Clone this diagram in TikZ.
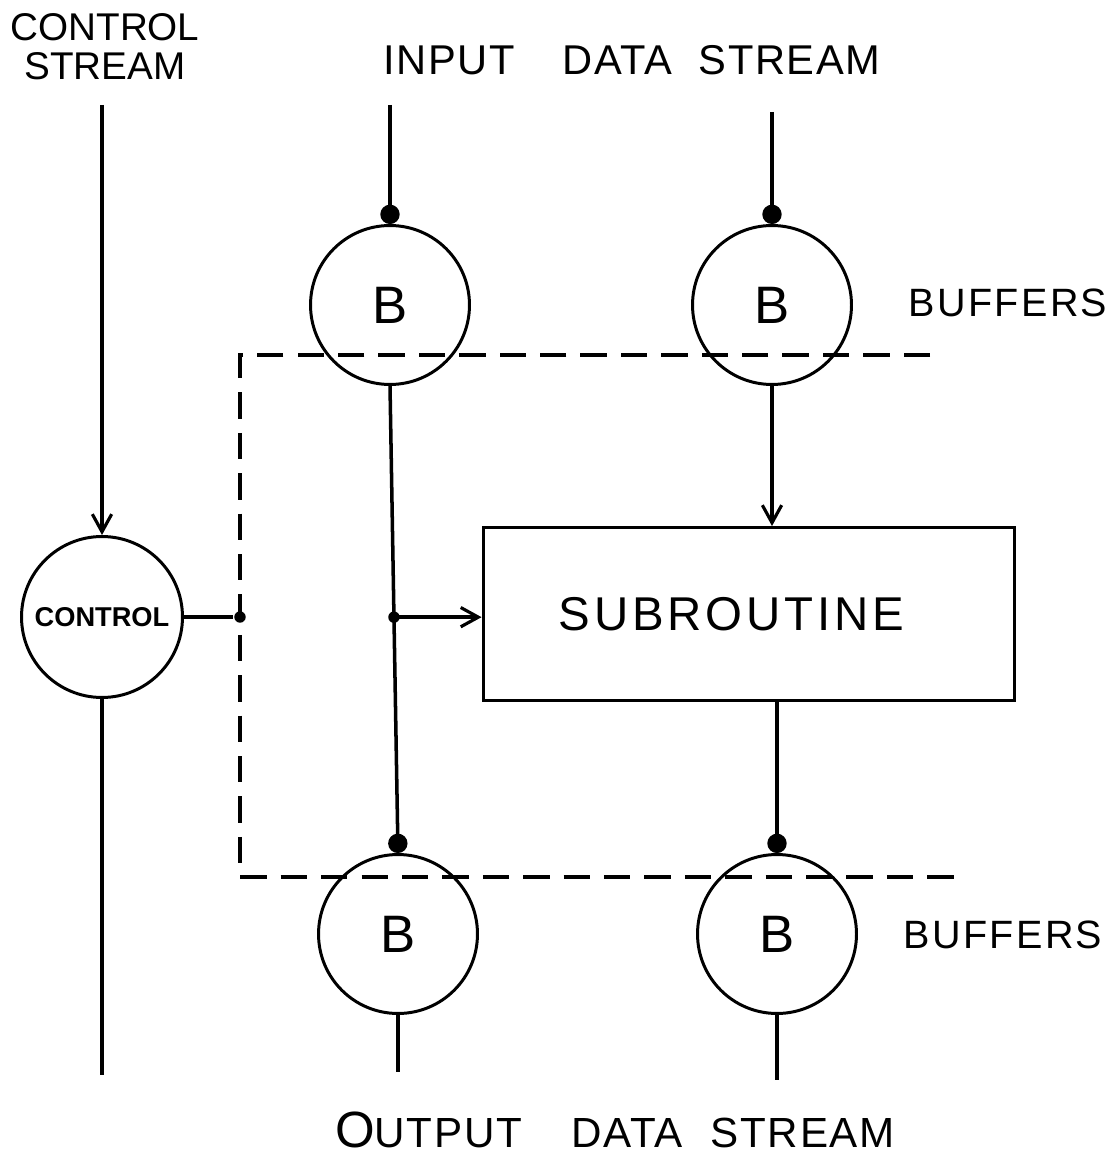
\documentclass[tikz,border=0pt]{standalone}
\usepackage{fontspec}
\setmainfont{Liberation Sans}
\usetikzlibrary{arrows.meta}

\begin{document}
\begin{tikzpicture}[x=0.02cm, y=-0.02cm,
  line width=2pt,
  buf/.style={circle, draw, line width=1.7pt, minimum size=3.18cm, inner sep=0pt,
    font=\fontsize{30}{30}\selectfont},
  ctlnode/.style={circle, draw, line width=1.7pt, minimum size=3.22cm, inner sep=0pt,
    font=\fontsize{15.5}{16}\selectfont\bfseries},
  subbox/.style={draw, line width=1.7pt, minimum width=10.64cm, minimum height=3.46cm,
    font=\fontsize{27}{28}\selectfont\addfontfeature{LetterSpace=8}},
  lbl/.style={inner sep=0pt, font=\fontsize{23.7}{24}\selectfont\addfontfeature{LetterSpace=4}},
  flow/.style={-{Straight Barb[length=10pt, width=11pt, line width=1.8pt]}},
  feed/.style={-{Circle[length=11pt]}},
  boundary/.style={line width=1.8pt, dash pattern=on 15pt off 8pt},
  joint/.style={circle, fill, inner sep=0pt, minimum size=6.5pt}
]
\useasboundingbox (0,0) rectangle (1117,1158);

% processing nodes
\node[buf] (b1) at (390,305) {B};
\node[buf] (b2) at (772,305) {B};
\node[buf] (b3) at (398,934) {B};
\node[buf] (b4) at (777,934) {B};
\node[ctlnode] (ctl) at (102,617) {CONTROL};
\node[subbox] (sub) at (749,614) {SUBROUTINE\kern20pt};

% labels
\node[lbl, align=center, font=\fontsize{22}{22}\selectfont] (lctl) at (105,47) {CONTROL\\STREAM};
\node[lbl] (lin) at (632,60) {INPUT\hspace{27pt}DATA\hspace{15pt}STREAM};
\node[lbl, font=\fontsize{22.5}{24}\selectfont\addfontfeature{LetterSpace=6}] (lbuf1) at (1008,303) {BUFFERS};
\node[lbl, font=\fontsize{22.5}{24}\selectfont\addfontfeature{LetterSpace=6}] (lbuf2) at (1003,935) {BUFFERS};
\node[lbl, font=\fontsize{24}{24}\selectfont\addfontfeature{LetterSpace=4}] (lout) at (615,1130)
  {{\fontsize{29}{30}\selectfont O}UTPUT\hspace{28pt}DATA\hspace{16pt}STREAM};

% free ends of the streams
\coordinate (cs) at (102,105);
\coordinate (ce) at (102,1075);
\coordinate (in1) at (390,105);
\coordinate (in2) at (772,112);
\coordinate (out1) at (400,1072);
\coordinate (out2) at (778,1080);

% dashed boundary
\coordinate (dtr) at (930,355);
\coordinate (dtl) at (240,355);
\coordinate (dbl) at (240,877);
\coordinate (dbr) at (955,877);
\draw[boundary] (dtr) -- (dtl) -- (dbl) -- (dbr);

% control stream
\draw[flow] (cs) -- (ctl.north);
\draw (ctl.south) -- (ce);
\node[joint] (cj) at (dtl |- ctl.east) {};
\draw (ctl.east) -- (cj);

% input streams
\draw[feed] (in1) -- (b1.north);
\draw[feed] (in2) -- (b2.north);

% buffer-to-buffer path and branch into the subroutine
\draw[feed] (b1.south) -- (b3.north);
\path (b1.south) -- (b3.north) node[joint, pos=0.495] (j) {};
\draw[flow] (j.center) -- (j.center -| sub.west);

% subroutine path
\draw[flow] (b2.south) -- (b2.south |- sub.north);
\draw[feed] (b4.north |- sub.south) -- (b4.north);

% output streams
\draw (b3.south) -- (b3.south |- out1);
\draw (b4.south) -- (b4.south |- out2);
\end{tikzpicture}
\end{document}
